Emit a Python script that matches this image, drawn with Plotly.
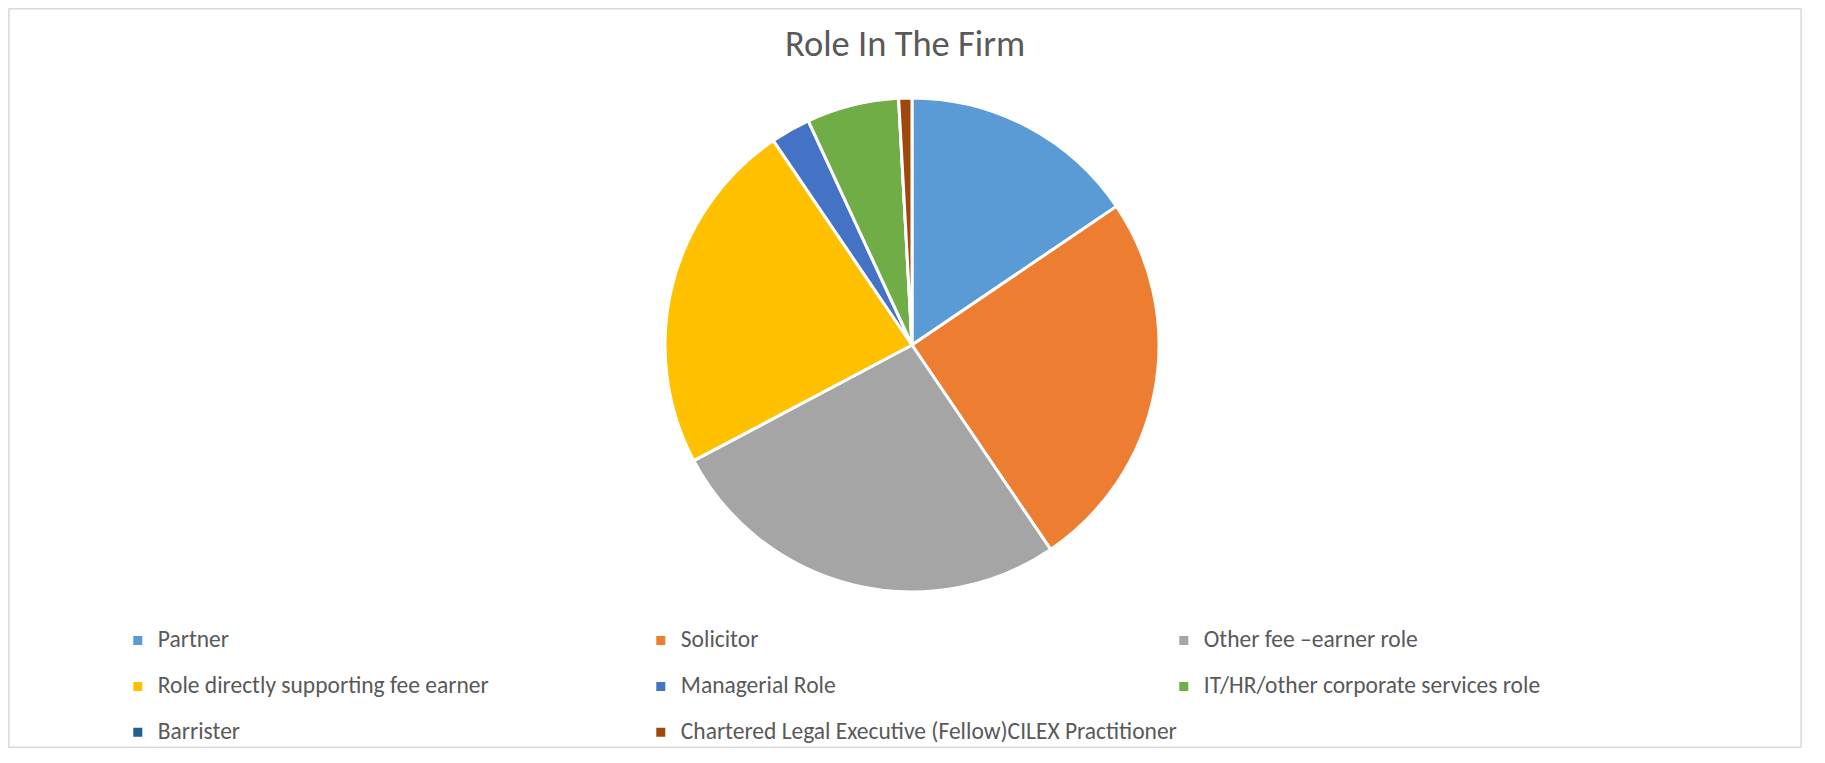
import plotly.graph_objects as go

# data (counts, approx.)
roles = [
    "Partner",
    "Solicitor",
    "Other fee \u2013earner role",
    "Role directly supporting fee earner",
    "Managerial Role",
    "IT/HR/other corporate services role",
    "Barrister",
    "Chartered Legal Executive (Fellow)CILEX Practitioner",
]
counts = [18, 29, 31, 27, 3, 7, 0, 1]
colors = ["#5B9BD5", "#ED7D31", "#A5A5A5", "#FFC000",
          "#4472C4", "#70AD47", "#255E91", "#9E480E"]

TEXT = "#595959"
FONT = "Carlito, Lato, sans-serif"

# legend labels: bigger text on a smaller base line, plus an empty line for row spacing
legend_labels = ["<span style='font-size:23.5px'>%s</span><br> " % r for r in roles]

fig = go.Figure()
fig.add_trace(go.Pie(
    labels=legend_labels,
    values=counts,
    sort=False,
    direction="clockwise",
    rotation=0,
    marker=dict(colors=colors, line=dict(color="white", width=3)),
    textinfo="none",
    hoverinfo="value+percent",
    domain=dict(x=[0.3662, 0.6416], y=[0.2108, 0.8784]),
))

fig.update_layout(
    width=1794, height=740,
    margin=dict(l=0, r=0, t=0, b=0, autoexpand=False),
    paper_bgcolor="white",
    font=dict(family=FONT, color=TEXT),
    title=dict(text="Role In The Firm", x=0.5, xanchor="center",
               y=0.953, yanchor="middle",
               font=dict(size=36.5, color=TEXT, family=FONT)),
    showlegend=True,
    legend=dict(
        orientation="h",
        x=0.0612, xanchor="left",
        y=0.1685, yanchor="top",
        entrywidth=478, entrywidthmode="pixels",
        valign="top",
        bgcolor="rgba(0,0,0,0)",
        font=dict(size=16.5, color=TEXT, family=FONT),
        itemclick=False, itemdoubleclick=False,
    ),
    shapes=[dict(type="rect", xref="paper", yref="paper",
                 x0=0.0005, x1=0.9995, y0=0.001, y1=0.999,
                 line=dict(color="#D9D9D9", width=1.5))],
)

fig.write_html("out.html")
